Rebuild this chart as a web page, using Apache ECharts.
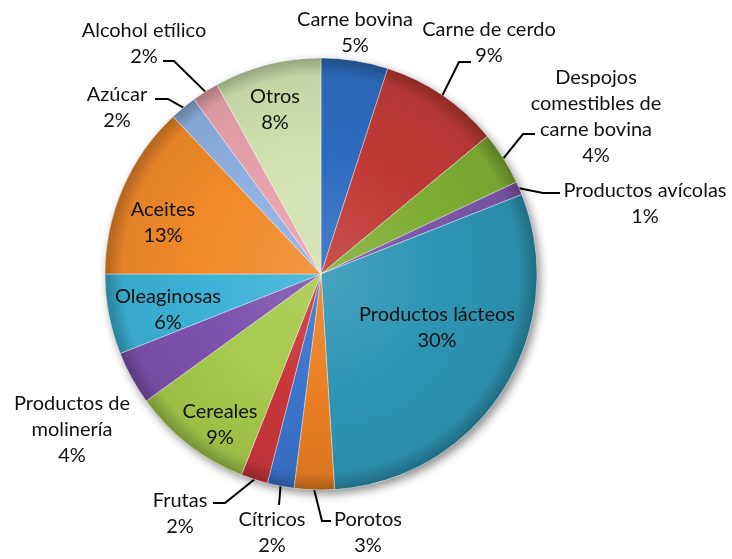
<!DOCTYPE html>
<html>
<head>
<meta charset="utf-8">
<script src="https://cdn.jsdelivr.net/npm/echarts@6/dist/echarts.min.js"></script>
<style>
html,body{margin:0;padding:0;background:#fff;}
#chart{width:732px;height:559px;}
</style>
</head>
<body>
<div id="chart"></div>
<script>
// ---- data ----
const categories = ['Carne bovina','Carne de cerdo','Despojos comestibles de carne bovina','Productos avícolas','Productos lácteos','Porotos','Cítricos','Frutas','Cereales','Productos de molinería','Oleaginosas','Aceites','Azúcar','Alcohol etílico','Otros'];
const labelTexts = ['Carne bovina','Carne de cerdo','Despojos\ncomestibles de\ncarne bovina','Productos avícolas','Productos lácteos','Porotos','Cítricos','Frutas','Cereales','Productos de\nmolinería','Oleaginosas','Aceites','Azúcar','Alcohol etílico','Otros'];
const values = [5, 9, 4, 1, 30, 3, 2, 2, 9, 4, 6, 13, 2, 2, 8];

// ---- styles / layout ----
const CX = 321, CY = 274, R = 216;
const colors = ['#2f6cc0','#c03a36','#7fae35','#7b57a8','#2e95b5','#ea7f22','#3a74cc','#c9363a','#a7c94c','#7d52ad','#3cb2d6','#f28a2a','#8eb0e2','#e7a2ab','#d1e2b0'];
const insideSet = {'Productos lácteos':1,'Cereales':1,'Oleaginosas':1,'Aceites':1,'Otros':1};
const noLine = {'Carne bovina':1,'Productos de molinería':1};
const labelPos = {
  'Carne bovina':[355,33],
  'Carne de cerdo':[489,43],
  'Despojos comestibles de carne bovina':[596,117],
  'Productos avícolas':[645,204],
  'Productos lácteos':[437,328],
  'Porotos':[368,533],
  'Cítricos':[272,533],
  'Frutas':[180,514],
  'Cereales':[220,425],
  'Productos de molinería':[72,430],
  'Oleaginosas':[168,310],
  'Aceites':[163,223],
  'Azúcar':[117,108],
  'Alcohol etílico':[144,44],
  'Otros':[275,110]
};
const leader = {
  'Carne de cerdo':[[459,62],[471,62]],
  'Despojos comestibles de carne bovina':[[523,134],[535,134]],
  'Productos avícolas':[[543,193],[560,193]],
  'Porotos':[[322,521],[331,521]],
  'Cítricos':[[279,505],[279,505]],
  'Frutas':[[225,503],[213,503]],
  'Azúcar':[[168,99],[155,99]],
  'Alcohol etílico':[[174,61],[163,61]]
};

function shade(hex, f){
  const n = parseInt(hex.slice(1),16);
  let r=(n>>16)&255,g=(n>>8)&255,b=n&255;
  if(f>=0){ r=r+(255-r)*f; g=g+(255-g)*f; b=b+(255-b)*f; }
  else { r=r*(1+f); g=g*(1+f); b=b*(1+f); }
  return 'rgb('+Math.round(r)+','+Math.round(g)+','+Math.round(b)+')';
}
function grad(c){
  return {type:'radial', x:CX, y:CY, r:R, global:true, colorStops:[
    {offset:0, color:shade(c,0.12)},
    {offset:0.55, color:c},
    {offset:0.92, color:shade(c,-0.06)},
    {offset:1, color:shade(c,-0.28)}
  ]};
}

const pieData = categories.map((name,i)=>{
  const inside = !!insideSet[name];
  return {
    name: name,
    value: values[i],
    itemStyle:{color:grad(colors[i])},
    label:{position: inside ? 'inside' : 'outside'},
    labelLine:{show: !inside && !noLine[name]}
  };
});

const chart = echarts.init(document.getElementById('chart'), null, {renderer:'canvas'});
chart.setOption({
  backgroundColor:'#ffffff',
  animation:false,
  series:[
    {
      type:'pie', silent:true, center:[CX,CY], radius:R, z:1,
      label:{show:false}, labelLine:{show:false},
      itemStyle:{color:'#ffffff', shadowBlur:10, shadowOffsetX:3, shadowOffsetY:4, shadowColor:'rgba(0,0,0,0.45)'},
      data:[{value:1, name:'_shadow'}]
    },
    {
      type:'pie', silent:true, center:[CX,CY], radius:R, startAngle:90, clockwise:true, z:2,
      avoidLabelOverlap:false,
      itemStyle:{borderColor:'rgba(255,255,255,0.35)', borderWidth:1},
      label:{
        show:true,
        fontFamily:'Lato, "Open Sans", sans-serif',
        fontSize:20,
        lineHeight:26,
        color:'#111111',
        align:'center',
        formatter:function(p){ return labelTexts[p.dataIndex] + '\n' + p.value + '%'; }
      },
      labelLine:{show:true, lineStyle:{color:'#000', width:2}, length:12, length2:10},
      labelLayout:function(params){
        const name = categories[params.dataIndex];
        const pos = labelPos[name];
        const out = {x:pos[0], y:pos[1], align:'center', verticalAlign:'middle'};
        const ld = leader[name];
        if (ld && params.labelLinePoints) {
          const s = params.labelLinePoints[0];
          out.labelLinePoints = [[s[0],s[1]], ld[0], ld[1]];
        }
        return out;
      },
      data: pieData
    }
  ]
});
</script>
</body>
</html>
